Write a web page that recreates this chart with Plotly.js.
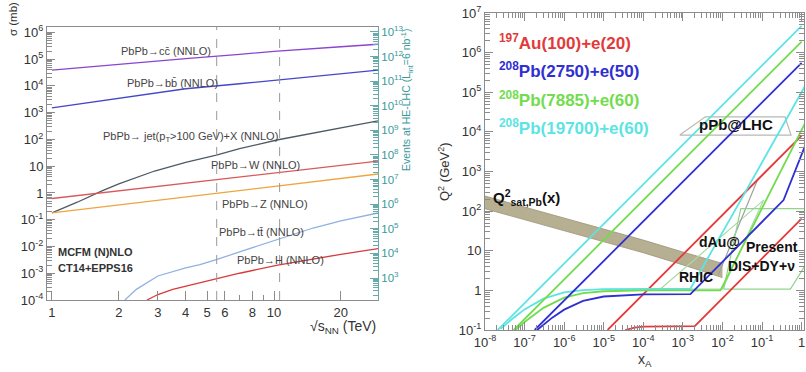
<!DOCTYPE html>
<html><head><meta charset="utf-8">
<script src="https://cdn.plot.ly/plotly-3.0.1.min.js"></script>
<style>html,body{margin:0;padding:0;background:#fff;}#plot{width:806px;height:372px;}</style>
</head><body><div id="plot"></div>
<script>
// ---------- Left panel: PbPb cross sections vs sqrt(s_NN) ----------
const energyCC = [1, 2, 4, 7, 10, 20, 29.4];
const sigmaCC  = [3.9e4, 6.5e4, 1.05e5, 1.5e5, 1.95e5, 2.9e5, 3.6e5];
const energyBB = [1, 2, 4, 7, 10, 20, 29.4];
const sigmaBB  = [1.5e3, 3.5e3, 7.8e3, 1.2e4, 1.6e4, 2.8e4, 3.9e4];
const energyJet = [1, 1.3, 1.68, 2, 2.9, 4, 5.5, 7, 10.3, 15, 20, 29.4];
const sigmaJet  = [0.18, 0.45, 1.19, 2.2, 6.6, 14, 26, 45, 95, 170, 265, 490];
const energyW = [1, 2, 5.5, 10, 20, 29.4];
const sigmaW  = [0.62, 1.19, 3.1, 5.5, 10.7, 15.5];
const energyZ = [1, 2, 5.5, 10, 20, 29.4];
const sigmaZ  = [0.18, 0.36, 0.98, 1.78, 3.5, 5.1];
const energyTT = [2.13, 2.4, 3, 4, 4.64, 5.5, 7, 10.4, 15, 20, 29.4];
const sigmaTT  = [1e-4, 2.5e-4, 7.9e-4, 1.6e-3, 2.1e-3, 3.2e-3, 6.3e-3, 0.0178, 0.049, 0.091, 0.178];
const energyH = [2.68, 3, 3.5, 4.64, 5.5, 7, 10.4, 15, 20, 29.4];
const sigmaH  = [1e-4, 1.6e-4, 2.5e-4, 4.3e-4, 6e-4, 1e-3, 2e-3, 3.4e-3, 5.1e-3, 8.3e-3];
const machineEnergies = [5.52, 10.6];   // LHC and HE-LHC PbPb
const leftXTicks = [1, 2, 3, 4, 5, 6, 8, 10, 20];
const leftYTicks = [1e-4, 1e-3, 1e-2, 1e-1, 1, 10, 1e2, 1e3, 1e4, 1e5, 1e6];
const leftYText  = ['10<sup>-4</sup>','10<sup>-3</sup>','10<sup>-2</sup>','10<sup>-1</sup>','1','10','10<sup>2</sup>','10<sup>3</sup>','10<sup>4</sup>','10<sup>5</sup>','10<sup>6</sup>'];
const eventTicks = [1e3,1e4,1e5,1e6,1e7,1e8,1e9,1e10,1e11,1e12,1e13];
const eventText  = ['10<sup>3</sup>','10<sup>4</sup>','10<sup>5</sup>','10<sup>6</sup>','10<sup>7</sup>','10<sup>8</sup>','10<sup>9</sup>','10<sup>10</sup>','10<sup>11</sup>','10<sup>12</sup>','10<sup>13</sup>'];

// ---------- Right panel: eA kinematic plane ----------
const satX    = [1e-8, 1e-7, 1e-6, 1e-5, 1e-4, 1e-3, 1e-2];
const satHigh = [240, 126, 66, 35, 18.6, 9.3, 4.8];
const satLow  = [115, 60, 32, 17, 8.9, 4.4, 2.1];

const redUpX = [1.25e-5, 1];          const redUpQ2 = [0.1, 8000];
const redLowX = [3.5e-5, 6e-5, 1e-4, 2.0e-3, 1];  const redLowQ2 = [0.1, 0.115, 0.122, 0.125, 65];
const blueUpX = [1.8e-7, 1];          const blueUpQ2 = [0.1, 5.5e5];
const blueLowX = [2e-7, 5e-7, 1e-6, 3e-6, 1e-5, 1e-4, 1.55e-3, 0.35, 1.3];
const blueLowQ2 = [0.097, 0.205, 0.326, 0.54, 0.70, 0.79, 0.8, 190, 5200];
const greenUpX = [5.3e-8, 1];         const greenUpQ2 = [0.1, 1.89e6];
const greenLowX = [6e-8, 1e-7, 3e-7, 1e-6, 3e-6, 1e-5, 1e-4, 8.9e-3, 1.34];
const greenLowQ2 = [0.102, 0.159, 0.362, 0.654, 0.85, 0.95, 0.995, 1.0, 2.0e4];
const cyanUpX = [2.1e-8, 1];          const cyanUpQ2 = [0.1, 4.73e6];
const cyanLowX = [2.5e-8, 5e-8, 1e-7, 3e-7, 1e-6, 3e-6, 1e-5, 1e-4, 1.55e-3, 0.029, 0.79, 1.3];
const cyanLowQ2 = [0.107, 0.195, 0.331, 0.62, 0.893, 1.02, 1.075, 1.097, 1.1, 190, 6.5e4, 1.6e5];

const pPbX  = [8.3e-4, 3.7e-3, 0.38, 0.54, 8.3e-4];
const pPbQ2 = [8300, 24000, 24000, 8300, 8300];
const rhicX  = [2.7e-4, 1.0e-2, 0.11, 2.7e-4];
const rhicQ2 = [1.08, 1.08, 190, 1.08];
const dAuEdgeX  = [7.9e-3, 0.077];
const dAuEdgeQ2 = [2.5, 620];
const presentX  = [1.07e-2, 0.52, 1.35, 1.35, 2.9e-2, 1.07e-2];
const presentQ2 = [1.08, 1.08, 4.9, 115, 115, 1.08];

const rightXTicks = [1e-8,1e-7,1e-6,1e-5,1e-4,1e-3,1e-2,1e-1,1];
const rightXText  = ['10<sup>-8</sup>','10<sup>-7</sup>','10<sup>-6</sup>','10<sup>-5</sup>','10<sup>-4</sup>','10<sup>-3</sup>','10<sup>-2</sup>','10<sup>-1</sup>','1'];
const rightYTicks = [0.1,1,10,1e2,1e3,1e4,1e5,1e6,1e7];
const rightYText  = ['10<sup>-1</sup>','1','10','10<sup>2</sup>','10<sup>3</sup>','10<sup>4</sup>','10<sup>5</sup>','10<sup>6</sup>','10<sup>7</sup>'];

const FONT = 'Liberation Sans, Arial, Helvetica, sans-serif';
const W = 806, H = 372;
const px = v => v / W, py = v => 1 - v / H;

function minorLog(lo, hi) { const out = []; for (let e = lo; e < hi; e++) for (let d = 2; d <= 9; d++) out.push(d * Math.pow(10, e)); return out; }

function line(x, y, color, width, axes, extra) {
  return Object.assign({x: x, y: y, type: 'scatter', mode: 'lines', line: {color: color, width: width}, hoverinfo: 'skip', showlegend: false, xaxis: axes[0], yaxis: axes[1]}, extra || {});
}
const L = ['x', 'y'], R = ['x3', 'y3'];

const traces = [
  line(energyCC, sigmaCC, '#8a44d0', 1.3, L),
  line(energyBB, sigmaBB, '#4646c8', 1.3, L),
  line(energyJet, sigmaJet, '#4d5a66', 1.3, L),
  line(energyW, sigmaW, '#d85a5a', 1.3, L),
  line(energyZ, sigmaZ, '#eea53e', 1.3, L),
  line(energyTT, sigmaTT, '#8fb2e0', 1.3, L),
  line(energyH, sigmaH, '#d83a3a', 1.3, L),
  {x: [energyW[0]], y: [eventTicks[0]], type: 'scatter', mode: 'markers', marker: {opacity: 0}, hoverinfo: 'skip', showlegend: false, xaxis: 'x', yaxis: 'y2'},
  // saturation band
  line(satX, satLow, '#9a9478', 0.8, R),
  line(satX, satHigh, '#9a9478', 0.8, R, {fill: 'tonexty', fillcolor: '#b7af92'}),
  // regions
  line(pPbX, pPbQ2, '#b8b8b8', 1.2, R),
  line(rhicX, rhicQ2, '#a9dba2', 1.2, R),
  line(dAuEdgeX, dAuEdgeQ2, '#a0a0a0', 1.2, R),
  line(presentX, presentQ2, '#8fd68a', 1.2, R),
  // colliders
  line(redUpX, redUpQ2, '#e23a3a', 1.8, R),
  line(redLowX, redLowQ2, '#e23a3a', 1.8, R),
  line(cyanUpX, cyanUpQ2, '#5ce4e4', 1.8, R),
  line(cyanLowX, cyanLowQ2, '#5ce4e4', 1.8, R),
  line(greenUpX, greenUpQ2, '#72dc4e', 1.8, R),
  line(greenLowX, greenLowQ2, '#72dc4e', 1.8, R),
  line(blueUpX, blueUpQ2, '#2f2fd2', 1.8, R),
  line(blueLowX, blueLowQ2, '#2f2fd2', 1.8, R),
];

const axisBase = {type: 'log', showgrid: false, zeroline: false, showline: true, linecolor: '#8c8c8c', linewidth: 1,
  ticks: 'inside', ticklen: 8, tickcolor: '#8c8c8c', tickmode: 'array', tickfont: {family: FONT, size: 13, color: '#333'}};

const shapes = machineEnergies.map(e => ({type: 'line', xref: 'x', yref: 'paper', x0: e, x1: e, y0: py(300), y1: py(27), line: {color: '#999', width: 1, dash: 'dash'}}));

function ann(text, x, y, opts) {
  return Object.assign({text: text, xref: 'paper', yref: 'paper', x: px(x), y: py(y), showarrow: false, xanchor: 'left', yanchor: 'middle', font: {family: FONT, size: 11, color: '#444'}}, opts || {});
}

const annotations = [
  ann('PbPb→cc\u0304 (NNLO)', 119, 51),
  ann('PbPb→bb\u0304 (NNLO)', 125, 83),
  ann('PbPb→ jet(p<sub>T</sub>>100 GeV)+X (NNLO)', 101, 137),
  ann('PbPb→W (NNLO)', 209, 165),
  ann('PbPb→Z (NNLO)', 220, 204),
  ann('PbPb→tt\u0304 (NNLO)', 217, 232),
  ann('PbPb→H (NNLO)', 235, 260),
  ann('<b>MCFM (N)NLO</b>', 56, 252, {font: {family: FONT, size: 11, color: '#333'}}),
  ann('<b>CT14+EPPS16</b>', 56, 268, {font: {family: FONT, size: 11, color: '#333'}}),
  ann('σ (mb)', 13, 19, {textangle: -90, xanchor: 'center', font: {family: FONT, size: 11.5, color: '#333'}}),
  ann('√s<sub>NN</sub> (TeV)', 378, 327, {xanchor: 'right', font: {family: FONT, size: 14, color: '#333'}}),
  ann('Events at HE-LHC (L<sub>int</sub>=6 nb<sup>-1</sup>)', 407, 100, {textangle: -90, xanchor: 'center', font: {family: FONT, size: 10.5, color: '#3a9a9a'}}),
  // right panel
  ann('<b><sup>197</sup>Au(100)+e(20)</b>', 497, 42, {font: {family: FONT, size: 17, color: '#e23a3a'}}),
  ann('<b><sup>208</sup>Pb(2750)+e(50)</b>', 497, 70, {font: {family: FONT, size: 17, color: '#2f2fd2'}}),
  ann('<b><sup>208</sup>Pb(7885)+e(60)</b>', 497, 99, {font: {family: FONT, size: 17, color: '#72dc4e'}}),
  ann('<b><sup>208</sup>Pb(19700)+e(60)</b>', 497, 127, {font: {family: FONT, size: 17, color: '#5ce4e4'}}),
  ann('<b>pPb@LHC</b>', 697, 125, {font: {family: FONT, size: 15, color: '#111'}}),
  ann('<b>Q<sup>2</sup><sub>sat,Pb</sub>(x)</b>', 491, 197, {font: {family: FONT, size: 15, color: '#111'}}),
  ann('<b>dAu@</b>', 697, 242, {font: {family: FONT, size: 14, color: '#111'}}),
  ann('<b>RHIC</b>', 677, 277, {font: {family: FONT, size: 14, color: '#111'}}),
  ann('<b>Present</b>', 744, 247, {font: {family: FONT, size: 14, color: '#111'}}),
  ann('<b>DIS+DY+ν</b>', 726, 266, {font: {family: FONT, size: 14, color: '#111'}}),
  ann('Q<sup>2</sup> (GeV<sup>2</sup>)', 444, 172, {textangle: -90, xanchor: 'center', font: {family: FONT, size: 13, color: '#333'}}),
  ann('x<sub>A</sub>', 636, 360, {font: {family: FONT, size: 14, color: '#333'}}),
];

const layout = {
  width: W, height: H, margin: {l: 0, r: 0, t: 0, b: 0}, paper_bgcolor: '#fff', plot_bgcolor: '#fff', showlegend: false,
  xaxis: Object.assign({}, axisBase, {domain: [px(47), px(378)], range: [Math.log10(0.95), Math.log10(29.4)], anchor: 'y', mirror: true,
    tickvals: leftXTicks, ticktext: leftXTicks.map(String), ticklen: 9,
    minor: {tickvals: [7, 9], ticks: 'inside', ticklen: 5, tickcolor: '#8c8c8c'}}),
  yaxis: Object.assign({}, axisBase, {domain: [py(300), py(27)], range: [-4, 6.2], anchor: 'x',
    tickvals: leftYTicks, ticktext: leftYText,
    minor: {tickvals: minorLog(-4, 7), ticks: 'inside', ticklen: 5, tickcolor: '#8c8c8c'}}),
  yaxis2: Object.assign({}, axisBase, {overlaying: 'y', side: 'right', anchor: 'x', range: [2.106, 13.2],
    tickvals: eventTicks, ticktext: eventText, linecolor: '#6aa', tickcolor: '#6aa', tickfont: {family: FONT, size: 11.5, color: '#3a9a9a'},
    minor: {tickvals: minorLog(2, 14), ticks: 'inside', ticklen: 5, tickcolor: '#6aa'}}),
  xaxis3: Object.assign({}, axisBase, {domain: [px(485), px(804)], range: [-8, 0.06], anchor: 'y3', mirror: 'allticks',
    tickvals: rightXTicks, ticktext: rightXText,
    minor: {tickvals: minorLog(-8, 1), ticks: 'inside', ticklen: 5, tickcolor: '#8c8c8c'}}),
  yaxis3: Object.assign({}, axisBase, {domain: [py(330), py(13)], range: [-1, 7], anchor: 'x3', mirror: 'allticks',
    tickvals: rightYTicks, ticktext: rightYText,
    minor: {tickvals: minorLog(-1, 7), ticks: 'inside', ticklen: 5, tickcolor: '#8c8c8c'}}),
  shapes: shapes,
  annotations: annotations,
};

Plotly.newPlot('plot', traces, layout, {displayModeBar: false, staticPlot: true});
</script></body></html>
